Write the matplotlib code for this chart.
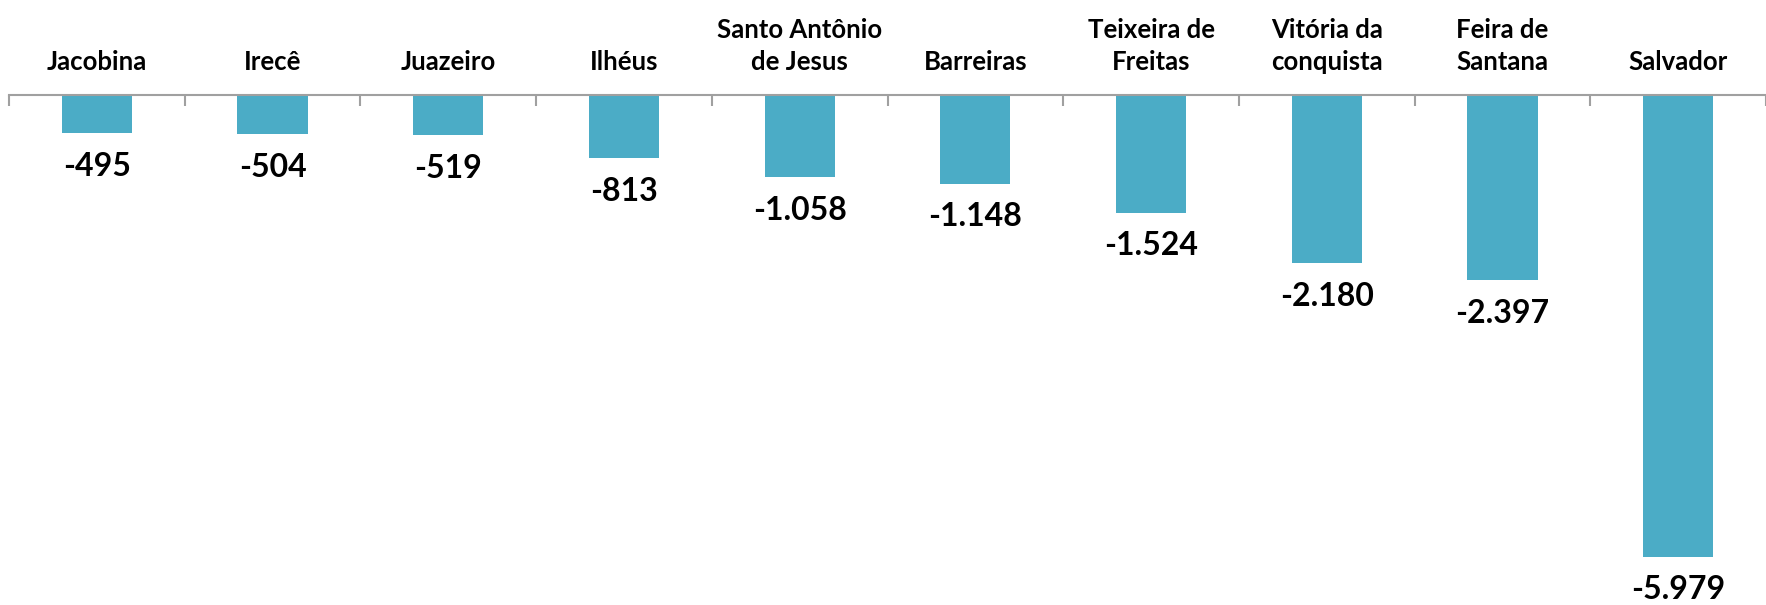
import numpy as np
import matplotlib.pyplot as plt

cities = ['Jacobina', 'Irecê', 'Juazeiro', 'Ilhéus', 'Santo Antônio\nde Jesus',
          'Barreiras', 'Teixeira de\nFreitas', 'Vitória da\nconquista',
          'Feira de\nSantana', 'Salvador']
saldo = np.array([-495, -504, -519, -813, -1058, -1148, -1524, -2180, -2397, -5979])

plt.rcParams['font.family'] = ['Lato', 'DejaVu Sans']
plt.rcParams['font.weight'] = 'bold'

fig = plt.figure(figsize=(17.66, 6.05), dpi=100)
ax = fig.add_axes([9 / 1766, 0, 1757 / 1766, 1 - 95 / 605])

x = np.arange(len(cities))
ax.bar(x, saldo, width=0.4, color='#4BACC6', zorder=2)

for xi, v in zip(x, saldo):
    ax.annotate(f'{v:,}'.replace(',', '.'), (xi, v), xytext=(0, -24),
                textcoords='offset points', ha='center', va='center',
                fontsize=23, fontweight='bold', color='black')

ax.set_xlim(-0.5, len(cities) - 0.5)
ax.set_ylim(-6606, 0)

# category boundaries as major ticks, names on minor ticks
ax.xaxis.tick_top()
ax.set_xticks(np.arange(-0.5, len(cities), 1.0))
ax.set_xticklabels([])
ax.set_xticks(x, minor=True)
ax.set_xticklabels(cities, minor=True, fontsize=18.5, fontweight='bold',
                   linespacing=1.4)
ax.tick_params(axis='x', which='major', direction='in', length=8, width=1.5,
               color='#A0A0A0')
ax.tick_params(axis='x', which='minor', length=0, pad=15)
ax.set_yticks([])

for s in ['left', 'right', 'bottom']:
    ax.spines[s].set_visible(False)
ax.spines['top'].set_color('#A0A0A0')
ax.spines['top'].set_linewidth(1.5)

fig.savefig('out.png', dpi=100)
